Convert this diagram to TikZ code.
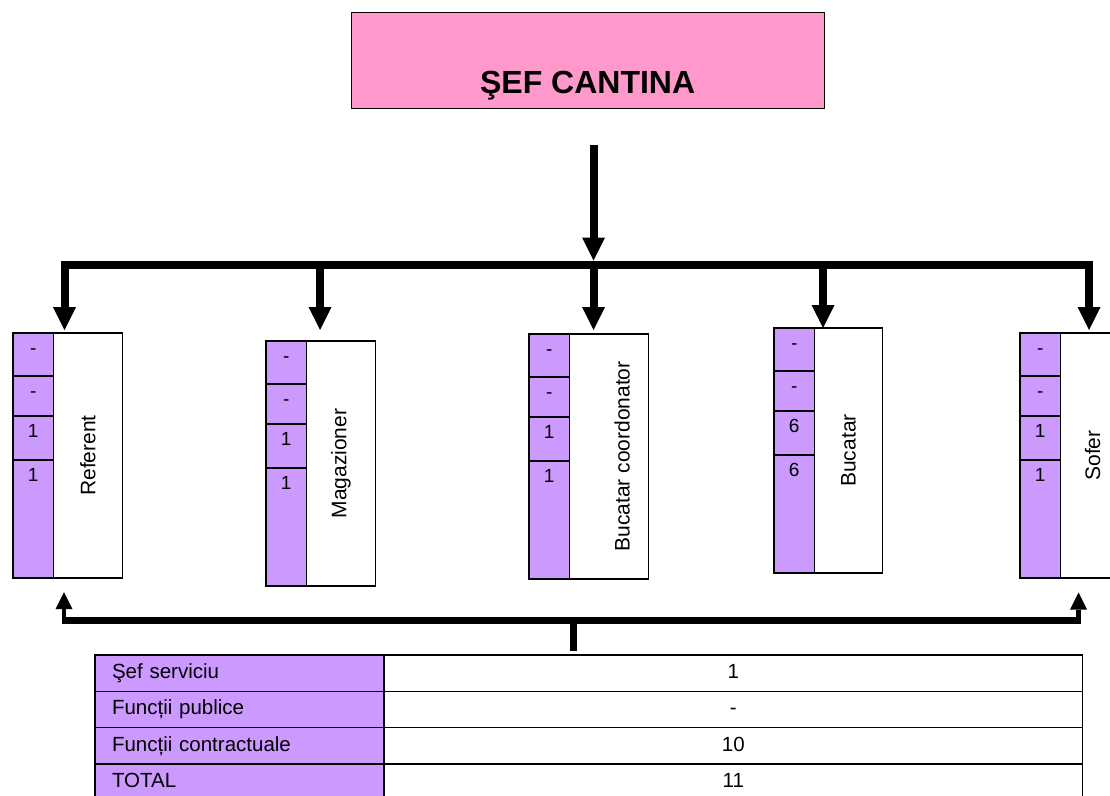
\documentclass[tikz,border=0pt]{standalone}
\usepackage{fontspec}
\setmainfont{Liberation Sans}
\usepackage{tikz}
\usetikzlibrary{arrows.meta}
\definecolor{lila}{HTML}{CC99FF}
\definecolor{roz}{HTML}{FF99CC}

\begin{document}
\begin{tikzpicture}[x=1pt,y=-1pt,
    chief/.style={draw,line width=1pt,fill=roz,anchor=south,inner sep=0pt,outer sep=0pt,minimum width=473.3pt,
        text height=81pt,text depth=15pt,font=\fontsize{32}{38}\selectfont\bfseries},
    col/.style={draw,line width=1.6pt,fill=lila,anchor=north west,minimum width=40.5pt,minimum height=245pt,inner sep=0pt,outer sep=0pt},
    post/.style={draw,line width=1.6pt,fill=white,anchor=north west,minimum height=245pt,inner sep=0pt,outer sep=0pt},
    job/.style={rotate=90,inner sep=0pt,font=\fontsize{21}{25}\selectfont},
    digit/.style={anchor=north,yshift=-8pt,inner sep=0pt,text height=13.5pt,text depth=0pt,font=\fontsize{19}{22}\selectfont},
    headcell/.style={draw,line width=1.6pt,fill=lila,anchor=north west,minimum height=36.3pt,text width=255pt,align=left,
        inner xsep=17pt,inner ysep=0pt,outer sep=0pt,text height=14.5pt,text depth=4pt,font=\fontsize{20.5}{24}\selectfont},
    valcell/.style={draw,line width=1.6pt,anchor=north west,minimum width=698.5pt,minimum height=36.3pt,
        inner sep=0pt,outer sep=0pt,text height=14.5pt,text depth=4pt,font=\fontsize{20.5}{24}\selectfont},
    bigarrow/.style={line width=8pt,-{Triangle[width=23pt,length=23pt,line width=0pt]}},
    bigboth/.style={line width=8pt,{Triangle[width=23pt,length=23pt,line width=0pt]}-{Triangle[width=23pt,length=23pt,line width=0pt]}},
    smallarrow/.style={line width=4.6pt,-{Triangle[width=17pt,length=17pt,line width=0pt]}}]
    \useasboundingbox (0,0) rectangle (1110,795);
    \clip (0,0) rectangle (1110,795);

    \node[chief] (sef) at (587.65,108.3) {ŞEF CANTINA};

    \foreach \x/\y/\w/\dx/\job/\n [count=\i] in {13/333/69/0/Referent/1, 266/341/69/0/Magazioner/1,
        529/334/79/13/Bucatar coordonator/1, 774/328/68/0/Bucatar/6, 1020/333/68/-2/Sofer/1}{
        \node[col] (col\i) at (\x,\y) {};
        \node[post,minimum width=\w pt] (post\i) at (col\i.north east) {};
        \node[job] (job\i) at ([xshift=\dx pt]post\i.center) {\job};
        \draw[line width=1.6pt] (col\i.north west) ++(0,43) -- ++(40.5,0) ++(-40.5,40) -- ++(40.5,0) ++(-40.5,44) -- ++(40.5,0);
        \path (col\i.north) node[digit] (d\i-1) {-} ++(0,43) node[digit] (d\i-2) {-}
            ++(0,40) node[digit] (d\i-3) {\n} ++(0,44) node[digit] (d\i-4) {\n};
    }

    \coordinate (start) at (593.5,145);
    \coordinate (join) at (593.5,260.5);
    \coordinate (busR) at (1089,264.5);
    \foreach \i/\xx/\yy in {1/64.5/330, 2/320/330, 3/593.5/330, 4/823/328, 5/1089/330}
        \coordinate (tip\i) at (\xx,\yy);

    \draw[bigarrow] (start) -- (join);
    \draw[bigboth] (tip1) |- (busR) -- (tip5);
    \foreach \i in {2,3,4}
        \draw[bigarrow] (tip\i |- busR) -- (tip\i);

    \coordinate (lowL) at (61.5,620.5);
    \coordinate (lowR) at (1081,620.5);
    \coordinate (up1) at (64,592);
    \coordinate (up5) at (1078.5,592.5);
    \coordinate (stub) at (573,651);
    \draw[line width=7.6pt] (lowL) -- (lowR);
    \draw[smallarrow] (up1 |- lowL) -- (up1);
    \draw[smallarrow] (up5 |- lowR) -- (up5);
    \draw[line width=7pt] (stub |- lowL) -- (stub);

    \foreach \lab/\val [count=\r] in {Şef serviciu/1, Funcții publice/-, Funcții contractuale/10, TOTAL/11}{
        \node[headcell] (row\r) at (95,618.7+36.3*\r) {\lab};
        \node[valcell] (val\r) at (row\r.north east) {\val};
    }
\end{tikzpicture}
\end{document}
